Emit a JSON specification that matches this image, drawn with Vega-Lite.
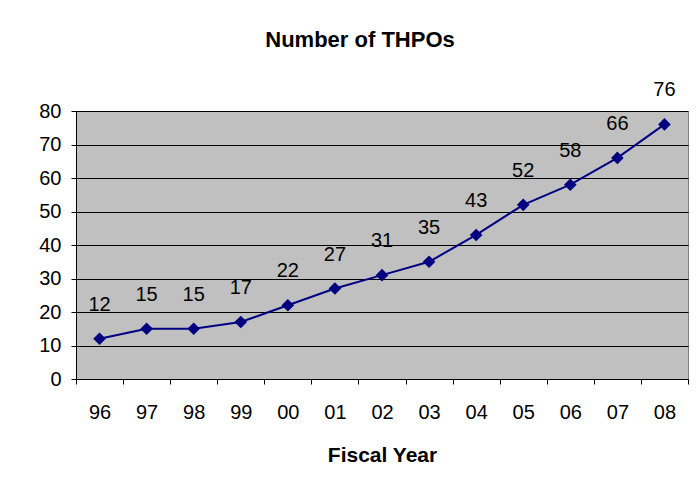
{
  "$schema": "https://vega.github.io/schema/vega-lite/v6.json",
  "autosize": {"type": "none"},
  "width": 612,
  "height": 268,
  "padding": {"left": 76, "top": 111, "right": 8, "bottom": 117},
  "background": "white",
  "title": {
    "text": "Number of THPOs",
    "anchor": "middle",
    "frame": "group",
    "dx": -22,
    "offset": 28,
    "font": "Liberation Sans",
    "fontSize": 22,
    "fontWeight": "bold",
    "color": "black"
  },
  "config": {
    "view": {"fill": "#C0C0C0", "stroke": "#808080", "strokeWidth": 1},
    "font": "Liberation Sans"
  },
  "data": {
    "values": [
      {"year": "96", "n": 12},
      {"year": "97", "n": 15},
      {"year": "98", "n": 15},
      {"year": "99", "n": 17},
      {"year": "00", "n": 22},
      {"year": "01", "n": 27},
      {"year": "02", "n": 31},
      {"year": "03", "n": 35},
      {"year": "04", "n": 43},
      {"year": "05", "n": 52},
      {"year": "06", "n": 58},
      {"year": "07", "n": 66},
      {"year": "08", "n": 76}
    ]
  },
  "encoding": {
    "x": {
      "field": "year",
      "type": "ordinal",
      "sort": null,
      "scale": {"type": "band", "paddingInner": 0, "paddingOuter": 0},
      "axis": {
        "title": "Fiscal Year",
        "titleFont": "Liberation Sans",
        "titleFontSize": 21,
        "titleFontWeight": "bold",
        "titleColor": "black",
        "titlePadding": 22,
        "labelFont": "Liberation Sans",
        "labelFontSize": 20,
        "labelColor": "black",
        "labelAngle": 0,
        "labelPadding": 18,
        "tickSize": 5,
        "tickBand": "extent",
        "tickColor": "black",
        "domainColor": "black",
        "grid": false
      }
    },
    "y": {
      "field": "n",
      "type": "quantitative",
      "scale": {"domain": [0, 80]},
      "axis": {
        "title": null,
        "values": [0, 10, 20, 30, 40, 50, 60, 70, 80],
        "labelFont": "Liberation Sans",
        "labelFontSize": 20,
        "labelColor": "black",
        "labelPadding": 10,
        "tickSize": 5,
        "tickColor": "black",
        "domainColor": "black",
        "grid": true,
        "gridColor": "black",
        "gridWidth": 1,
        "gridOpacity": 1
      }
    }
  },
  "layer": [
    {
      "mark": {"type": "line", "color": "#000080", "strokeWidth": 2}
    },
    {
      "mark": {"type": "point", "shape": "diamond", "size": 160, "filled": true, "color": "#000080", "opacity": 1}
    },
    {
      "mark": {"type": "text", "dy": -34, "baseline": "middle", "fontSize": 20, "font": "Liberation Sans", "color": "black"},
      "encoding": {"text": {"field": "n", "type": "quantitative"}}
    }
  ]
}
